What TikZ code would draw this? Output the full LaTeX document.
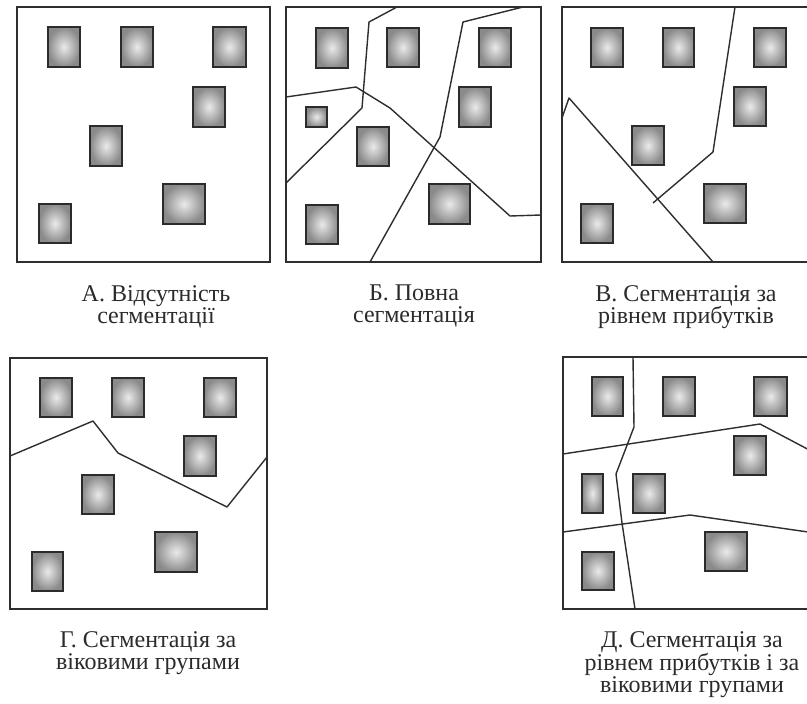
\documentclass[tikz,border=0pt]{standalone}
\usepackage{fontspec}
\setmainfont{Liberation Serif}
\usepackage{xcolor}
\usetikzlibrary{positioning}
\definecolor{inkgray}{HTML}{2B2B2B}
\definecolor{linegray}{HTML}{2E2E2E}
\definecolor{cellcore}{HTML}{EAEAEA}
\definecolor{cellrim}{HTML}{8A8A8A}

\begin{document}
\begin{tikzpicture}[
    x=1pt, y=-1pt,
    frame/.style={draw=linegray, line width=1.4pt},
    cell/.style={draw=inkgray, line width=1.9pt, inner color=cellcore, outer color=cellrim},
    border/.style={draw=linegray, line width=1.4pt, line join=round},
    caption/.style={anchor=north, inner sep=0pt, align=center, text=inkgray, font=\fontsize{24}{22}\selectfont},
]
\clip (0,0) rectangle (807,704);
\fill[white] (0,0) rectangle (807,704);

% A -- no segmentation
\draw[frame] (17,7) rectangle (270,262);
\foreach \xa/\ya/\xb/\yb in {48/27/80/67, 121/27/153/67, 213/27/246/67, 193/87/225/127,
    90/126/122/166, 163/184/205/224, 39/204/71/243}
  \draw[cell] (\xa,\ya) rectangle (\xb,\yb);
\node[caption] (capa) at (156,285) {А. Відсутність\\сегментації};

% B -- full segmentation
\draw[frame] (286,7) rectangle (541,262);
\foreach \xa/\ya/\xb/\yb in {316/28/348/68, 387/28/419/67, 479/28/511/67, 459/87/491/127,
    306/107/327/127, 357/127/389/166, 429/184/470/224, 306/205/338/244}
  \draw[cell] (\xa,\ya) rectangle (\xb,\yb);
\draw[border] (397,7) -- (369,22) -- (362,108) -- (286,183);
\draw[border] (286,97) -- (356,87) -- (390,108) -- (510,216) -- (541,215);
\draw[border] (523,7) -- (463,22) -- (440,137) -- (370,262);
\node[caption] (capb) at (414,285) {Б. Повна\\сегментація};

% C -- by income level
\draw[frame] (562,7) rectangle (815,262);
\foreach \xa/\ya/\xb/\yb in {591/28/623/67, 663/28/694/67, 754/28/786/67, 734/87/766/126,
    632/126/664/165, 704/184/746/223, 581/204/613/243}
  \draw[cell] (\xa,\ya) rectangle (\xb,\yb);
\draw[border] (735,7) -- (713,152) -- (653,203);
\draw[border] (562,118) -- (569,98) -- (713,262);
\node[caption] (capc) at (686,285) {В. Сегментація за\\рівнем прибутків};

% D -- by age groups
\draw[frame] (10,358) rectangle (267,609);
\foreach \xa/\ya/\xb/\yb in {40/378/72/417, 112/378/144/417, 204/378/236/417, 184/436/216/476,
    82/475/114/514, 155/532/197/572, 32/552/63/591}
  \draw[cell] (\xa,\ya) rectangle (\xb,\yb);
\draw[border] (10,456) -- (93,421) -- (118,453) -- (227,507) -- (267,457);
\node[caption] (capd) at (148,631) {Г. Сегментація за\\віковими групами};

% E -- by income and age
\draw[frame] (563,357) rectangle (815,609);
\foreach \xa/\ya/\xb/\yb in {592/377/623/416, 663/377/695/416, 754/377/787/416, 734/436/766/475,
    582/474/603/513, 633/474/665/513, 705/532/747/571, 582/552/614/590}
  \draw[cell] (\xa,\ya) rectangle (\xb,\yb);
\draw[border] (633,357) -- (634,427) -- (616,474) -- (622,523) -- (635,609);
\draw[border] (563,454) -- (760,424) -- (815,453);
\draw[border] (563,532) -- (690,515) -- (815,533);
\node[caption] (cape) at (692,631) {Д. Сегментація за\\рівнем прибутків і за\\віковими групами};
\end{tikzpicture}
\end{document}
